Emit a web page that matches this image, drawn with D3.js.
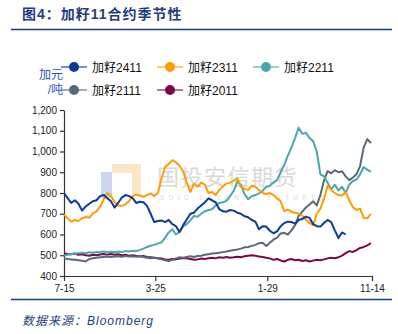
<!DOCTYPE html>
<html><head><meta charset="utf-8">
<script src="https://cdn.jsdelivr.net/npm/d3@7/dist/d3.min.js"></script>
<style>
body{margin:0;background:#fff;}
svg{display:block;font-family:"Liberation Sans","Noto Sans CJK SC",Arial,sans-serif;}
</style></head>
<body><svg id="c" width="398" height="334"></svg>
<script>
const title = "图4：加籽11合约季节性";
const source = "数据来源：Bloomberg";
const unitLabel = ["加元", "/吨"];
const xTickDates = ["2022-07-15", "2023-03-25", "2024-01-29", "2024-11-14"];
const xTickLabels = ["7-15", "3-25", "1-29", "11-14"];
const yTicks = [400, 500, 600, 700, 800, 900, 1000, 1100, 1200];
const startDate = "2022-07-15";
const stepDays = 10;
const seriesNames = ["加籽2411", "加籽2311", "加籽2211", "加籽2111", "加籽2011"];

const s2411 = [800,775,752,765,748,715,735,748,760,765,785,790,775,760,730,752,778,790,785,775,
  752,758,755,738,700,660,665,668,660,670,650,640,612,645,672,700,705,725,740,755,
  774,765,755,722,712,710,718,715,705,700,688,683,670,662,625,640,638,618,606,615,
  640,655,662,660,652,670,675,686,680,650,640,638,655,670,660,620,583,610,600];
const s2311 = [697,678,662,670,665,678,684,680,702,712,734,770,800,785,758,740,738,745,760,785,
  792,788,782,790,798,785,800,870,925,940,958,948,930,905,850,805,845,830,850,840,
  800,805,790,815,832,845,850,860,870,830,820,815,835,830,815,800,795,800,790,775,
  760,712,720,710,705,700,690,672,655,645,700,725,770,835,815,800,790,788,805,765,
  732,718,725,680,678,700];
const s2211 = [498,502,505,508,510,512,510,514,512,516,515,518,515,517,514,518,516,520,518,522,
  520,526,532,540,546,550,556,562,585,610,625,600,612,640,650,668,690,685,700,712,
  718,722,740,752,755,762,785,810,855,840,795,770,785,790,798,810,830,835,850,862,
  900,935,980,1020,1065,1115,1085,1090,1065,1050,1000,890,880,850,818,840,812,830,800,840,
  858,865,890,925,912,903];
const s2111 = [485,482,480,478,476,474,470,482,486,488,490,492,494,492,494,495,493,496,494,495,
  493,496,492,488,486,488,485,480,476,472,478,485,490,488,492,495,492,496,498,502,
  505,508,510,512,515,518,522,525,528,532,538,540,545,550,558,560,545,560,575,585,
  605,608,600,620,645,690,710,730,745,760,740,790,860,905,895,910,900,905,880,862,
  875,890,930,1020,1060,1040];
const s2011 = [508,506,505,508,502,505,500,498,502,500,504,506,503,506,502,505,500,503,498,500,
  496,494,496,492,490,488,486,484,480,478,482,480,484,486,485,482,478,480,484,482,
  486,488,485,490,488,492,488,490,493,490,495,498,500,498,494,492,488,485,478,482,
  475,470,478,482,476,478,472,476,470,474,478,476,480,485,488,486,490,498,510,520,
  516,525,535,540,548,558];
const seriesColors = ["#0b3a9c", "#ff9c00", "#4aa7ad", "#586a78", "#7a0a45"];

const svg = d3.select("#c");
const parse = d3.timeParse("%Y-%m-%d");
const t0 = parse(startDate);

// header
svg.append("text").attr("x", 22).attr("y", 19).attr("fill", "#1f3d80")
  .attr("font-size", 14).attr("font-weight", "bold").attr("letter-spacing", 1).text(title);
svg.append("line").attr("x1", 11).attr("x2", 392).attr("y1", 29.5).attr("y2", 29.5)
  .attr("stroke", "#1a3a8a").attr("stroke-width", 1.5);
svg.append("line").attr("x1", 11).attr("x2", 392).attr("y1", 299.5).attr("y2", 299.5)
  .attr("stroke", "#1a3a8a").attr("stroke-width", 1.5);
svg.append("text").attr("x", 22).attr("y", 325).attr("fill", "#1f3d80")
  .attr("font-size", 12).attr("font-style", "italic").attr("letter-spacing", 1).text(source);

// watermark
const wm = svg.append("g");
wm.append("rect").attr("x", 101).attr("y", 172).attr("width", 11).attr("height", 26).attr("fill", "#c9d6ee");
wm.append("path").attr("d", "M112,164 H141 V196 H132 V173 H112 Z").attr("fill", "#fde6c6");
wm.append("text").attr("x", 157).attr("y", 185).attr("font-size", 22).attr("fill", "#d9d9d9")
  .attr("letter-spacing", 1.5).attr("font-family", "Noto Sans CJK SC").text("国投安信期货");
wm.append("text").attr("x", 160).attr("y", 200).attr("font-size", 6.5).attr("fill", "#dddddd")
  .attr("letter-spacing", 4.4).text("SDIC ESSENCE FUTURES");

// scales
const x = d3.scaleTime().domain([parse(xTickDates[0]), parse(xTickDates[3])]).range([64, 372]);
const y = d3.scaleLinear().domain([400, 1200]).range([276, 110]);

const yAxis = svg.append("g").attr("transform", "translate(64,0)")
  .call(d3.axisLeft(y).tickValues(yTicks).tickFormat(d3.format(",")).tickSize(4).tickSizeOuter(0).tickPadding(3));
const xAxis = svg.append("g").attr("transform", "translate(0,276)")
  .call(d3.axisBottom(x).tickValues(xTickDates.map(parse))
    .tickFormat((d, i) => xTickLabels[i]).tickSize(5).tickSizeOuter(0).tickPadding(4));
[yAxis, xAxis].forEach(g => {
  g.selectAll("path,line").attr("stroke", "#333").attr("stroke-width", 1.2);
  g.selectAll("text").attr("fill", "#222").attr("font-size", 10);
});

// unit
svg.append("text").attr("x", 63).attr("y", 79).attr("text-anchor", "end").attr("fill", "#3552c8")
  .attr("font-size", 12).text(unitLabel[0]);
svg.append("text").attr("x", 63).attr("y", 94).attr("text-anchor", "end").attr("fill", "#3552c8")
  .attr("font-size", 12).text(unitLabel[1]);

// lines
const all = [s2411, s2311, s2211, s2111, s2011];
const line = d3.line()
  .x((d, i) => x(d3.timeDay.offset(t0, i * stepDays)))
  .y(d => y(d));
const drawOrder = [4, 3, 2, 1, 0];
drawOrder.forEach(k => {
  svg.append("path").datum(all[k]).attr("d", line).attr("fill", "none")
    .attr("stroke", seriesColors[k]).attr("stroke-width", 2).attr("stroke-linejoin", "round");
});

// legend
const legPos = [[74, 67], [170, 67], [266, 67], [74, 90], [170, 90]];
seriesNames.forEach((n, k) => {
  const [cx, cy] = legPos[k];
  const g = svg.append("g");
  g.append("line").attr("x1", cx - 13).attr("x2", cx + 13).attr("y1", cy).attr("y2", cy)
    .attr("stroke", seriesColors[k]).attr("stroke-opacity", 0.55).attr("stroke-width", 2);
  g.append("circle").attr("cx", cx).attr("cy", cy).attr("r", 5).attr("fill", seriesColors[k]);
  g.append("text").attr("x", cx + 18).attr("y", cy + 4.5).attr("font-size", 12).attr("fill", "#111").text(n);
});
</script></body></html>
